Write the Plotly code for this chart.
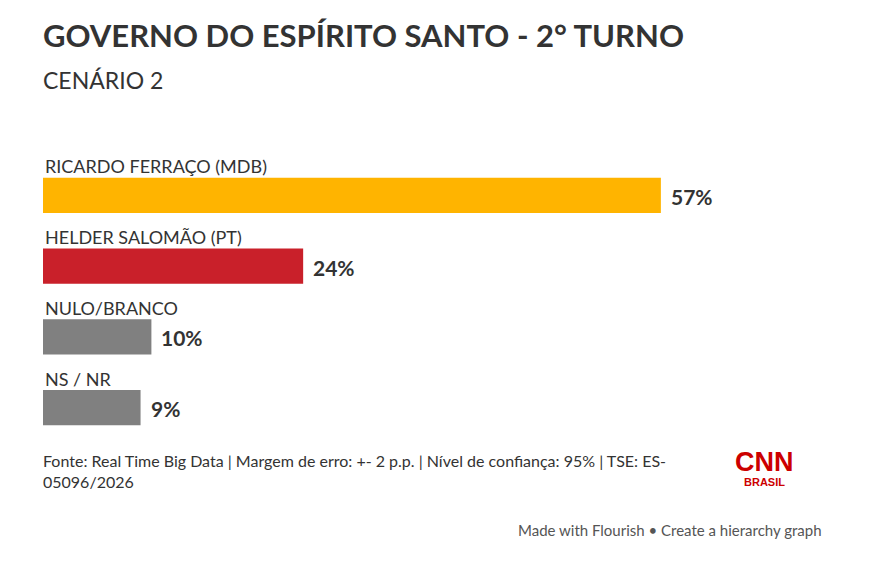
import plotly.graph_objects as go

# dados da pesquisa
candidatos = ["RICARDO FERRAÇO (MDB)", "HELDER SALOMÃO (PT)", "NULO/BRANCO", "NS / NR"]
percentuais = [57, 24, 10, 9]
cores = ["#FFB400", "#C9202A", "#808080", "#808080"]

fonte = "Lato"
texto_cor = "#333333"

W, H = 876, 563
OFF = 8  # margem do body da página
M_L, M_R, M_T, M_B = 43 - OFF, 33, 160 - OFF, 120 + OFF


def px_y(py):
    # pixel da janela -> coordenada paper
    return (H - M_B - (py - OFF)) / (H - M_T - M_B)


def px_x(px):
    return (px - OFF - M_L) / (W - M_L - M_R)


fig = go.Figure()
fig.add_trace(go.Bar(
    x=percentuais,
    y=candidatos,
    orientation="h",
    marker=dict(color=cores, line=dict(width=0)),
    width=0.5,
    hoverinfo="skip",
))

for nome, v in zip(candidatos, percentuais):
    # rótulo acima da barra
    fig.add_annotation(
        x=0, y=nome, xref="x", yref="y",
        text=nome, showarrow=False,
        xanchor="left", yanchor="middle", yshift=29,
        font=dict(family=fonte, size=18, color=texto_cor),
    )
    # valor à direita da barra
    fig.add_annotation(
        x=v, y=nome, xref="x", yref="y",
        text=f"<b>{v}%</b>", showarrow=False,
        xanchor="left", yanchor="middle", xshift=8, yshift=-1,
        font=dict(family=fonte, size=21, color=texto_cor),
    )

fig.add_annotation(
    x=px_x(41), y=px_y(35), xref="paper", yref="paper",
    text="<b>GOVERNO DO ESPÍRITO SANTO - 2° TURNO</b>",
    showarrow=False, xanchor="left", yanchor="middle",
    font=dict(family=fonte, size=31, color=texto_cor),
)
fig.add_annotation(
    x=px_x(41), y=px_y(80), xref="paper", yref="paper",
    text="CENÁRIO 2",
    showarrow=False, xanchor="left", yanchor="middle",
    font=dict(family=fonte, size=23, color=texto_cor),
)
fig.add_annotation(
    x=px_x(41), y=px_y(471), xref="paper", yref="paper",
    text="Fonte: Real Time Big Data | Margem de erro: +- 2 p.p. | Nível de confiança: 95% | TSE: ES-<br>05096/2026",
    showarrow=False, xanchor="left", yanchor="middle", align="left",
    font=dict(family=fonte, size=16, color=texto_cor),
)
fig.add_annotation(
    x=px_x(764), y=px_y(462), xref="paper", yref="paper",
    text="<b>CNN</b>",
    showarrow=False, xanchor="center", yanchor="middle",
    font=dict(family="Liberation Sans", size=27, color="#CC0000"),
)
fig.add_annotation(
    x=px_x(764), y=px_y(482), xref="paper", yref="paper",
    text="<b>BRASIL</b>",
    showarrow=False, xanchor="center", yanchor="middle",
    font=dict(family="Liberation Sans", size=11, color="#CC0000"),
)
fig.add_annotation(
    x=px_x(824), y=px_y(530), xref="paper", yref="paper",
    text="Made with Flourish • Create a hierarchy graph",
    showarrow=False, xanchor="right", yanchor="middle",
    font=dict(family=fonte, size=15, color="#555555"),
)

fig.update_layout(
    width=W, height=H,
    margin=dict(l=M_L, r=M_R, t=M_T, b=M_B),
    paper_bgcolor="white", plot_bgcolor="white",
    showlegend=False,
    xaxis=dict(range=[0, (W - M_L - M_R) / 10.84], visible=False, fixedrange=True),
    yaxis=dict(range=[len(candidatos) - 0.5, -0.5], visible=False, fixedrange=True),
)

fig.write_html("out.html")
